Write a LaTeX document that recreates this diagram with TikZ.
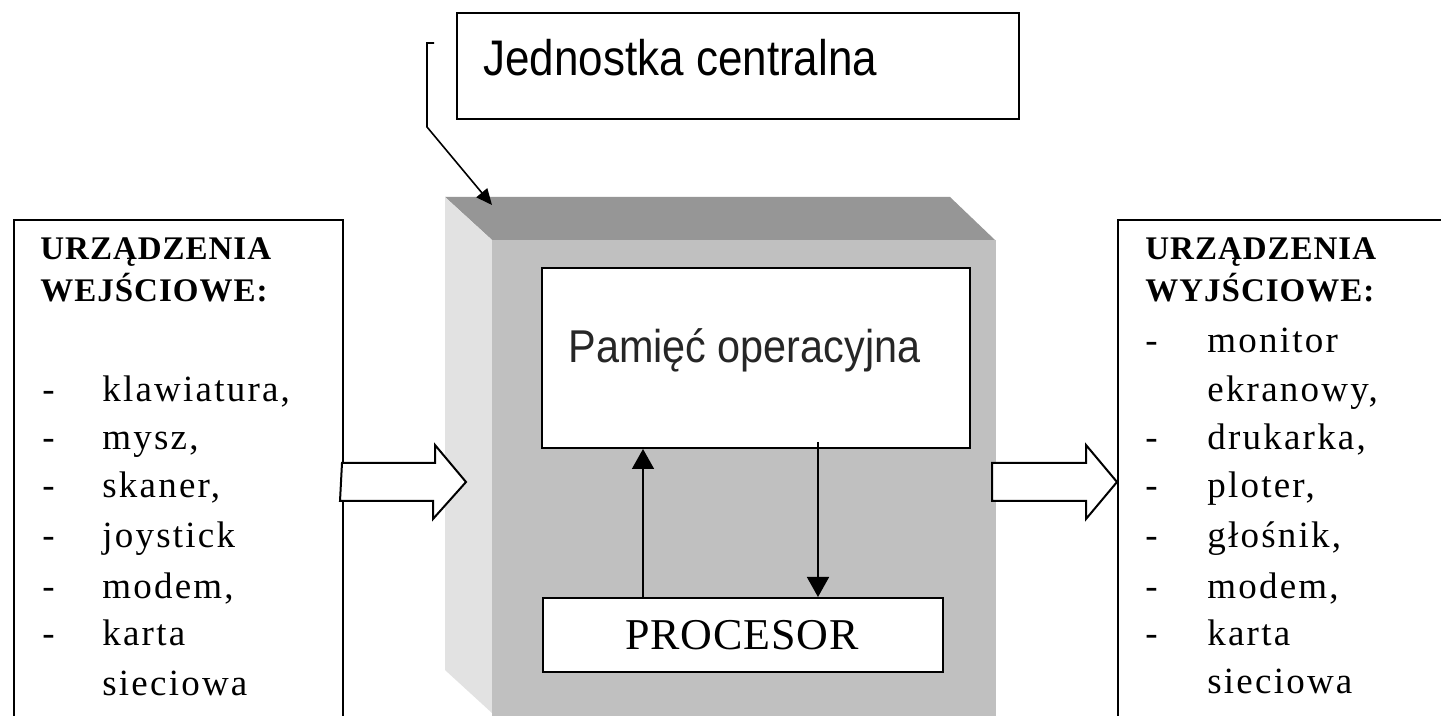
\documentclass[tikz,border=0pt]{standalone}
\usepackage{fontspec}
\setmainfont{Liberation Serif}
\setsansfont{Liberation Sans}
\usepackage{graphicx}
\usetikzlibrary{arrows.meta,calc}

\definecolor{topgray}{HTML}{969696}
\definecolor{sidegray}{HTML}{E2E2E2}
\definecolor{frontgray}{HTML}{C0C0C0}

\begin{document}
\begin{tikzpicture}[x=0.5pt,y=-0.5pt,
  frame/.style={draw=black, line width=1pt, fill=white, inner sep=0pt, anchor=north west},
  titletext/.style={font=\sffamily\fontsize{25}{25}\selectfont, anchor=base west, inner sep=0pt},
  memtext/.style={font=\sffamily\fontsize{23}{23}\selectfont, text=black!85, anchor=base west, inner sep=0pt},
  proctext/.style={font=\fontsize{22}{22}\selectfont\addfontfeature{LetterSpace=2}, anchor=base, inner sep=0pt},
  head/.style={font=\fontsize{16.5}{16.5}\selectfont\bfseries\addfontfeature{LetterSpace=3}, anchor=base west, inner sep=0pt},
  item/.style={font=\fontsize{18.5}{18.5}\selectfont\addfontfeature{LetterSpace=6}, anchor=base west, inner sep=0pt},
  pointer/.style={draw=black, line width=0.8pt, -{Triangle[length=8pt,width=7pt]}},
  flow/.style={draw=black, line width=0.8pt, -{Triangle[length=10pt,width=11pt]}},
  block/.style={draw=black, line width=1pt, fill=white, line join=miter}
]
% page area
\clip (0,0) rectangle (1441,716);
\fill[white] (0,0) rectangle (1441,716);

% central unit drawn as a box in perspective
\fill[topgray] (445,197) -- (950,197) -- (995,240) -- (492,240) -- cycle;
\fill[sidegray] (445,197) -- (492,240) -- (492,713) -- (445,670) -- cycle;
\fill[frontgray] (492,240) rectangle (996,740);
\coordinate (cpucorner) at (492,205);

% caption box and its pointer
\node[frame, minimum width=281pt, minimum height=53pt] (title) at (456,12) {};
\node[titletext] (titlelabel) at (483,76) {\scalebox{0.88}[1]{Jednostka centralna}};
\coordinate (tick) at (434,43);
\draw[pointer] (tick) -- ++(-7,0) -- ++(0,84) -- (cpucorner);

% input and output device panels
\node[frame, minimum width=164.5pt, minimum height=280pt] (inbox) at (13,219) {};
\node[frame, minimum width=180pt, minimum height=280pt] (outbox) at (1117,219) {};

% wide arrows into and out of the central unit
\coordinate (row) at (0,482);
\coordinate (intip) at (466,482);
\draw[block] ($(inbox.east |- row)+(-2,-19)$) -- ++(93,0) -- ++(0,-18) -- (intip)
  -- ++(-33,37) -- ++(0,-18) -- ++(-93,0) -- cycle;
\draw[block] (outbox.west |- row) -- ++(-31,-37) -- ++(0,18) -- ++(-94,0)
  -- ++(0,38) -- ++(94,0) -- ++(0,18) -- cycle;

% memory and processor
\node[frame, minimum width=214pt, minimum height=90pt] (mem) at (541,267) {};
\node[memtext] (memlabel) at (568,363) {\scalebox{0.9}[1]{Pamięć operacyjna}};
\node[frame, minimum width=200pt, minimum height=37pt] (proc) at (542,597) {};
\node[proctext] (proclabel) at (742,649) {PROCESOR};

\coordinate (upx) at (643,0);
\coordinate (dnx) at (818,0);
\draw[flow] (proc.north -| upx) -- (mem.south -| upx);
\draw[flow] ($(mem.south -| dnx)+(0,-7)$) -- (proc.north -| dnx);

% input devices
\node[head] (inh1) at (40,260) {URZĄDZENIA};
\node[head] (inh2) at (40,302) {WEJŚCIOWE:};
\node[item] (ind1) at (42,402) {-};
\node[item] (ind2) at (42,450) {-};
\node[item] (ind3) at (42,498) {-};
\node[item] (ind4) at (42,548) {-};
\node[item] (ind5) at (42,598) {-};
\node[item] (ind6) at (42,645) {-};
\node[item] (in1) at (102,402) {klawiatura,};
\node[item] (in2) at (102,450) {mysz,};
\node[item] (in3) at (102,498) {skaner,};
\node[item] (in4) at (102,548) {joystick};
\node[item] (in5) at (102,598) {modem,};
\node[item] (in6) at (102,645) {karta};
\node[item] (in7) at (102,695) {sieciowa};

% output devices
\node[head] (outh1) at (1145,260) {URZĄDZENIA};
\node[head] (outh2) at (1145,302) {WYJŚCIOWE:};
\node[item] (outd1) at (1145,353) {-};
\node[item] (outd3) at (1145,450) {-};
\node[item] (outd4) at (1145,498) {-};
\node[item] (outd5) at (1145,548) {-};
\node[item] (outd6) at (1145,598) {-};
\node[item] (outd7) at (1145,645) {-};
\node[item] (out1) at (1207,353) {monitor};
\node[item] (out2) at (1207,402) {ekranowy,};
\node[item] (out3) at (1207,450) {drukarka,};
\node[item] (out4) at (1207,498) {ploter,};
\node[item] (out5) at (1207,548) {głośnik,};
\node[item] (out6) at (1207,598) {modem,};
\node[item] (out7) at (1207,645) {karta};
\node[item] (out8) at (1207,693) {sieciowa};
\end{tikzpicture}
\end{document}
